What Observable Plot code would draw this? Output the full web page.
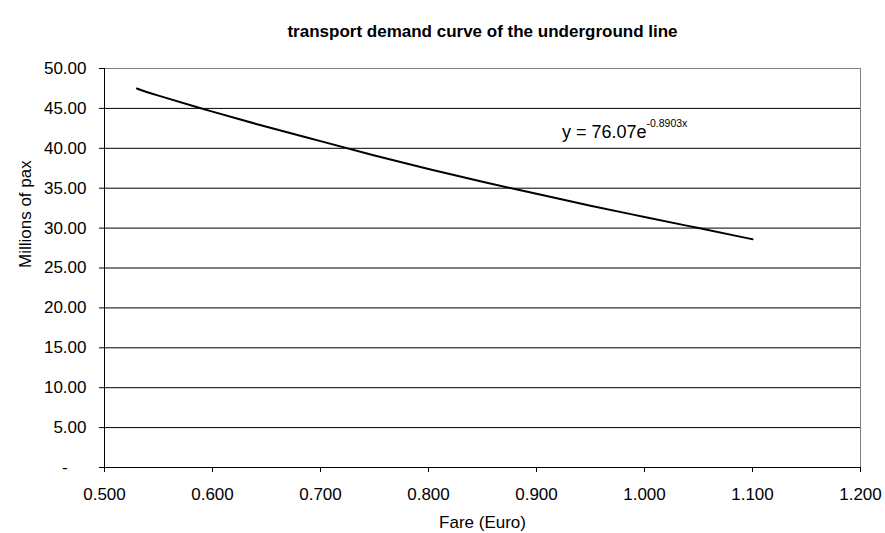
<!DOCTYPE html>
<html>
<head>
<meta charset="utf-8">
<script src="https://cdn.jsdelivr.net/npm/d3@7"></script>
<script src="https://cdn.jsdelivr.net/npm/@observablehq/plot@0.6"></script>
<style>
  html, body { margin: 0; padding: 0; background: #fff; }
</style>
</head>
<body>
<div id="chart"></div>
<script>
// Fare (Euro)
const fares = [0.53, 0.55, 0.60, 0.65, 0.70, 0.75, 0.80, 0.85, 0.90, 0.95, 1.00, 1.05, 1.10];
// Millions of pax
const pax = [47.5, 46.6, 44.6, 42.7, 40.9, 39.1, 37.4, 35.8, 34.3, 32.8, 31.4, 30.0, 28.6];
const xTicks = [0.5, 0.6, 0.7, 0.8, 0.9, 1.0, 1.1, 1.2];
const yTicks = [0, 5, 10, 15, 20, 25, 30, 35, 40, 45, 50];
const titleText = "transport demand curve of the underground line";
const xLabel = "Fare (Euro)";
const yLabel = "Millions of pax";
const eqMain = "y = 76.07e";
const eqExp = "-0.8903x";

const data = fares.map((f, i) => ({fare: f, pax: pax[i]}));

const chart = Plot.plot({
  width: 885,
  height: 533,
  marginLeft: 104,
  marginRight: 25,
  marginTop: 68,
  marginBottom: 66,
  style: {fontFamily: "'Liberation Sans', Arial, sans-serif", fontSize: "17px", background: "#fff", color: "#000"},
  x: {domain: [0.5, 1.2]},
  y: {domain: [0, 50]},
  marks: [
    Plot.gridY(yTicks, {stroke: "#000", strokeOpacity: 1}),
    Plot.frame({stroke: "#808080"}),
    Plot.ruleX([0.5], {stroke: "#000"}),
    Plot.ruleY([0], {stroke: "#000"}),
    Plot.axisY(yTicks, {
      tickSize: 5, tickPadding: 13, label: null,
      tickFormat: d => d === 0 ? "-\u00a0\u00a0\u00a0\u00a0" : d3.format(".2f")(d)
    }),
    Plot.axisX(xTicks, {
      tickSize: 5, tickPadding: 15, label: null,
      tickFormat: d3.format(".3f")
    }),
    Plot.line(data, {x: "fare", y: "pax", stroke: "#000", strokeWidth: 2, curve: "natural"}),
    Plot.text([titleText], {frameAnchor: "top", dy: -37, fontWeight: "bold", fontSize: 17, lineAnchor: "middle"}),
    Plot.text([xLabel], {frameAnchor: "bottom", dy: 55, fontSize: 17, lineAnchor: "middle"}),
    Plot.text([yLabel], {frameAnchor: "left", dx: -79, rotate: -90, fontSize: 17, lineAnchor: "middle"}),
    Plot.text([eqMain], {frameAnchor: "top-left", dx: 542, dy: 64, textAnchor: "end", lineAnchor: "middle", fontSize: 18}),
    Plot.text([eqExp], {frameAnchor: "top-left", dx: 542, dy: 55, textAnchor: "start", lineAnchor: "middle", fontSize: 10.5})
  ]
});
document.getElementById("chart").append(chart);
</script>
</body>
</html>
